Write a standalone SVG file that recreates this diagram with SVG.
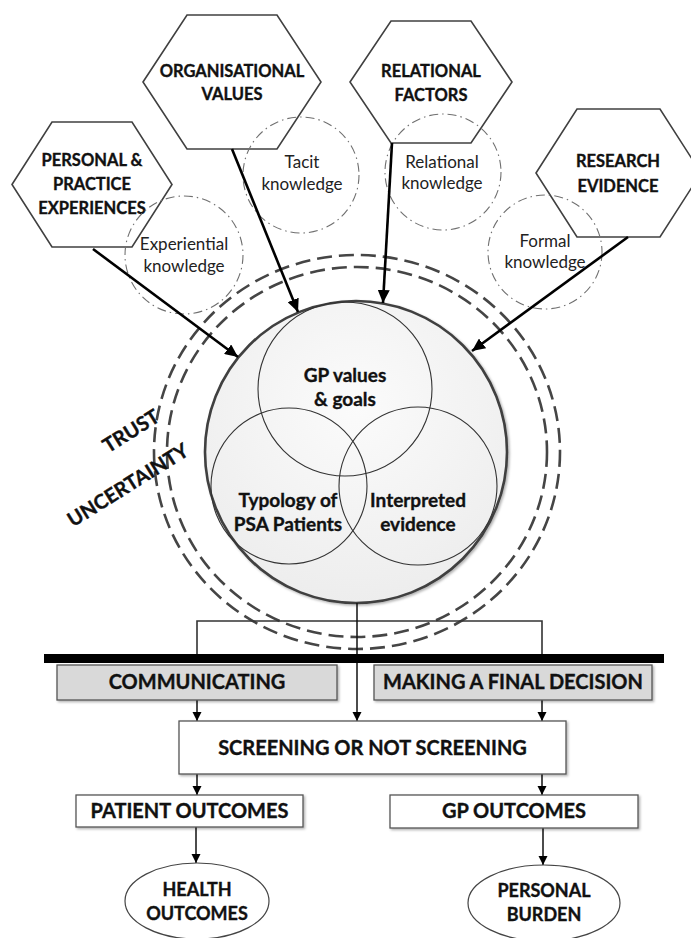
<svg xmlns="http://www.w3.org/2000/svg" width="691" height="938" viewBox="0 0 691 938">
  <style>
    text { font-family: Lato, "Liberation Sans", sans-serif; fill: #111; text-anchor: middle; }
    .bold { font-weight: 700; stroke: #111; stroke-width: 0.35; }
    .hex { fill: #fff; stroke: #404040; stroke-width: 1.6; }
    .hexlabel { font-size: 16.5px; }
    .know { fill: none; stroke: #707070; stroke-width: 1.1; stroke-dasharray: 9 4 1.5 4; }
    .knowlabel { font-size: 17px; font-weight: 400; fill: #222; }
    .ring { fill: none; stroke: #454545; stroke-width: 2.6; stroke-dasharray: 15 7; }
    .venn { fill: none; stroke: #333; stroke-width: 1.1; }
    .vennlabel { font-size: 19px; }
    .side { font-size: 20px; }
    .feed { stroke: #000; stroke-width: 2.6; fill: none; }
    .flow { stroke: #111; stroke-width: 1.5; fill: none; }
    .bracket { stroke: #333; stroke-width: 1.6; fill: none; }
    .stage { fill: #d9d9d9; stroke: #555; stroke-width: 1.3; }
    .box { fill: #fff; stroke: #555; stroke-width: 1.3; }
    .boxlabel { font-size: 20px; }
    .ovallabel { font-size: 18px; }
  </style>
  <defs>
    <marker id="headBig" markerUnits="userSpaceOnUse" markerWidth="14" markerHeight="12" refX="13" refY="6" orient="auto">
      <path d="M0,0 L13,6 L0,12 z" fill="#000"/>
    </marker>
    <marker id="headSmall" markerUnits="userSpaceOnUse" markerWidth="10" markerHeight="10" refX="9" refY="4.5" orient="auto">
      <path d="M0,0 L9,4.5 L0,9 z" fill="#000"/>
    </marker>
    <radialGradient id="coreFill" cx="0.5" cy="0.35" r="0.7">
      <stop offset="0" stop-color="#fbfbfb"/>
      <stop offset="1" stop-color="#ececec"/>
    </radialGradient>
    <filter id="soft" x="-10%" y="-10%" width="130%" height="130%">
      <feDropShadow dx="1.5" dy="1.5" stdDeviation="0.8" flood-color="#000" flood-opacity="0.3"/>
    </filter>
  </defs>

  <!-- trust / uncertainty rings -->
  <g id="rings">
    <ellipse class="ring" cx="357" cy="452" rx="203" ry="197"/>
    <ellipse class="ring" cx="357" cy="452" rx="190" ry="185"/>
    <text class="side bold" transform="translate(131,431) rotate(-32)" y="7">TRUST</text>
    <text class="side bold" transform="translate(128,485) rotate(-32)" y="7">UNCERTAINTY</text>
  </g>

  <!-- knowledge sources -->
  <g id="personal">
    <polygon class="hex" points="12,184.5 52,122 132,122 172,184.5 132,247 52,247"/>
    <text class="hexlabel bold" x="92" y="166">PERSONAL &amp;</text>
    <text class="hexlabel bold" x="92" y="190">PRACTICE</text>
    <text class="hexlabel bold" x="92" y="214">EXPERIENCES</text>
  </g>
  <g id="organisational">
    <polygon class="hex" points="143,82 187,15 277,15 321,82 277,149 187,149"/>
    <text class="hexlabel bold" x="232" y="77">ORGANISATIONAL</text>
    <text class="hexlabel bold" x="232" y="100">VALUES</text>
  </g>
  <g id="relational">
    <polygon class="hex" points="350,82 391,21 471,21 512,82 471,143 391,143"/>
    <text class="hexlabel bold" x="431" y="77">RELATIONAL</text>
    <text class="hexlabel bold" x="431" y="101">FACTORS</text>
  </g>
  <g id="research">
    <polygon class="hex" points="536,173 577,109 660,109 701,173 660,237 577,237"/>
    <text class="hexlabel bold" x="618" y="167">RESEARCH</text>
    <text class="hexlabel bold" x="618" y="192">EVIDENCE</text>
  </g>

  <g id="experiential">
    <circle class="know" cx="184" cy="255" r="59"/>
    <text class="knowlabel" x="184" y="250">Experiential</text>
    <text class="knowlabel" x="184" y="272">knowledge</text>
  </g>
  <g id="tacit">
    <circle class="know" cx="301" cy="175" r="58"/>
    <text class="knowlabel" x="302" y="168">Tacit</text>
    <text class="knowlabel" x="302" y="190">knowledge</text>
  </g>
  <g id="relationalKnowledge">
    <circle class="know" cx="443" cy="172" r="58"/>
    <text class="knowlabel" x="442" y="168">Relational</text>
    <text class="knowlabel" x="442" y="189">knowledge</text>
  </g>
  <g id="formal">
    <circle class="know" cx="545" cy="252" r="57"/>
    <text class="knowlabel" x="545" y="247">Formal</text>
    <text class="knowlabel" x="545" y="268">knowledge</text>
  </g>

  <!-- GP decision core -->
  <g id="core">
    <circle cx="356" cy="452" r="151" fill="url(#coreFill)" stroke="#404040" stroke-width="2.6" filter="url(#soft)"/>
    <circle class="venn" cx="345" cy="389" r="87"/>
    <circle class="venn" cx="289" cy="486" r="78"/>
    <circle class="venn" cx="418" cy="486" r="79"/>
    <text class="vennlabel bold" x="345" y="382">GP values</text>
    <text class="vennlabel bold" x="345" y="406">&amp; goals</text>
    <text class="vennlabel bold" x="288" y="507">Typology of</text>
    <text class="vennlabel bold" x="288" y="531">PSA Patients</text>
    <text class="vennlabel bold" x="418" y="507">Interpreted</text>
    <text class="vennlabel bold" x="418" y="531">evidence</text>
  </g>

  <!-- connectors -->
  <g id="connectors">
    <line class="feed" x1="93" y1="249" x2="238" y2="357" marker-end="url(#headBig)"/>
    <line class="feed" x1="232" y1="149" x2="298" y2="312" marker-end="url(#headBig)"/>
    <line class="feed" x1="392" y1="143" x2="383" y2="303" marker-end="url(#headBig)"/>
    <line class="feed" x1="628" y1="237" x2="472" y2="351" marker-end="url(#headBig)"/>
    <path class="bracket" d="M197,655 V621 H542 V655"/>
    <line class="flow" x1="357" y1="603" x2="357" y2="721" marker-end="url(#headSmall)"/>
    <rect x="44" y="654" width="620" height="9" fill="#000"/>
    <line class="flow" x1="197" y1="700" x2="197" y2="721" marker-end="url(#headSmall)"/>
    <line class="flow" x1="542" y1="700" x2="542" y2="721" marker-end="url(#headSmall)"/>
    <line class="flow" x1="197" y1="774" x2="197" y2="795" marker-end="url(#headSmall)"/>
    <line class="flow" x1="542" y1="774" x2="542" y2="795" marker-end="url(#headSmall)"/>
    <line class="flow" x1="196" y1="827" x2="196" y2="863" marker-end="url(#headSmall)"/>
    <line class="flow" x1="543" y1="828" x2="543" y2="865" marker-end="url(#headSmall)"/>
  </g>

  <!-- process and outcomes -->
  <g id="communicating">
    <rect class="stage" x="57" y="665" width="280" height="35" filter="url(#soft)"/>
    <text class="boxlabel bold" x="197" y="689">COMMUNICATING</text>
  </g>
  <g id="decision">
    <rect class="stage" x="374" y="665" width="278" height="35" filter="url(#soft)"/>
    <text class="boxlabel bold" x="513" y="689">MAKING A FINAL DECISION</text>
  </g>
  <g id="screening">
    <rect class="box" x="179" y="721" width="387" height="53" filter="url(#soft)"/>
    <text class="boxlabel bold" x="372.5" y="755">SCREENING OR NOT SCREENING</text>
  </g>
  <g id="patientOutcomes">
    <rect class="box" x="76" y="795" width="227" height="32" filter="url(#soft)"/>
    <text class="boxlabel bold" x="189.5" y="818">PATIENT OUTCOMES</text>
  </g>
  <g id="gpOutcomes">
    <rect class="box" x="390" y="795" width="248" height="33" filter="url(#soft)"/>
    <text class="boxlabel bold" x="514" y="818">GP OUTCOMES</text>
  </g>
  <g id="healthOutcomes">
    <ellipse cx="197" cy="901" rx="72" ry="38" fill="#fff" stroke="#444" stroke-width="1.2"/>
    <text class="ovallabel bold" x="197" y="896">HEALTH</text>
    <text class="ovallabel bold" x="197" y="920">OUTCOMES</text>
  </g>
  <g id="personalBurden">
    <ellipse cx="544" cy="903" rx="76" ry="38" fill="#fff" stroke="#444" stroke-width="1.2"/>
    <text class="ovallabel bold" x="544" y="897">PERSONAL</text>
    <text class="ovallabel bold" x="544" y="921">BURDEN</text>
  </g>
</svg>
